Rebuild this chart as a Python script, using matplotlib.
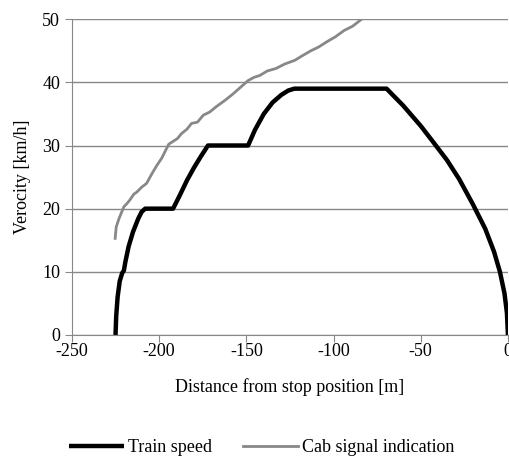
import matplotlib.pyplot as plt

plt.rcParams['font.family'] = ['Liberation Serif', 'DejaVu Serif']
plt.rcParams['axes.unicode_minus'] = False

# train speed profile (distance [m], speed [km/h])
train_x = [-225, -224.6, -223.8, -222.6, -221.2, -220.2, -219.4, -217.5, -215, -212, -210, -208,
           -192, -188, -184, -180, -176, -172,
           -149, -145, -140, -135, -130, -126, -122.5,
           -69.6, -60, -50, -43, -35, -28, -20.3, -13, -8, -4.6, -2, -0.6, 0]
train_v = [0, 3, 6, 8.5, 9.8, 10.2, 11.5, 14, 16.3, 18.4, 19.5, 20,
           20, 22.2, 24.5, 26.5, 28.3, 30,
           30, 32.5, 35, 36.8, 38, 38.7, 39,
           39, 36.3, 33.1, 30.6, 27.7, 24.7, 20.8, 16.8, 13.2, 10, 6.6, 3.5, 0]

# cab signal indication
cab_x = [-225.2, -224.6, -222.9, -220.2, -218.5, -216.7, -214.5, -212.9, -210, -207.2, -204, -201.4,
         -198.5, -196.7, -194.5, -192.3, -189.5, -187.1, -184, -181.4, -178, -174.7, -171, -167,
         -162, -157.5, -153, -148.9, -145.5, -142.2, -138, -133, -128, -122.1, -118, -113,
         -108.5, -104, -99, -94, -89, -83.9]
cab_v = [15.3, 17.1, 18.5, 20.3, 20.8, 21.4, 22.3, 22.6, 23.4, 24, 25.6, 26.8,
         28, 29, 30.2, 30.6, 31.1, 31.9, 32.6, 33.5, 33.7, 34.8, 35.3, 36.2,
         37.2, 38.2, 39.3, 40.3, 40.8, 41.1, 41.8, 42.2, 42.9, 43.5, 44.2, 45,
         45.6, 46.4, 47.2, 48.2, 48.9, 50]

fig = plt.figure(figsize=(5.1, 4.57), dpi=100)
ax = fig.add_axes([0.141, 0.267, 0.855, 0.691])

grey = '#888888'
ax.plot(train_x, train_v, color='black', lw=3.2, label='Train speed', solid_capstyle='butt')
ax.plot(cab_x, cab_v, color=grey, lw=2.0, label='Cab signal indication')

ax.set_xlim(-250, 0)
ax.set_ylim(0, 50)
ax.set_xticks(range(-250, 1, 50))
ax.set_yticks(range(0, 51, 10))
ax.yaxis.grid(True, color=grey, lw=1)
ax.set_axisbelow(True)
for s in ['top', 'right']:
    ax.spines[s].set_visible(False)
for s in ['left', 'bottom']:
    ax.spines[s].set_color(grey)
ax.tick_params(axis='both', colors=grey, labelcolor='black', labelsize=13, length=5, direction='out')
ax.tick_params(axis='x', pad=1)
ax.set_xlabel('Distance from stop position [m]', fontsize=13, labelpad=13)
ax.set_ylabel('Verocity [km/h]', fontsize=13, labelpad=8)

fig.legend(loc='center', bbox_to_anchor=(0.513, 0.02), ncol=2, frameon=False,
           fontsize=13, handlelength=3.05, handletextpad=0.22, columnspacing=1.7)

fig.savefig('out.png', dpi=100)
